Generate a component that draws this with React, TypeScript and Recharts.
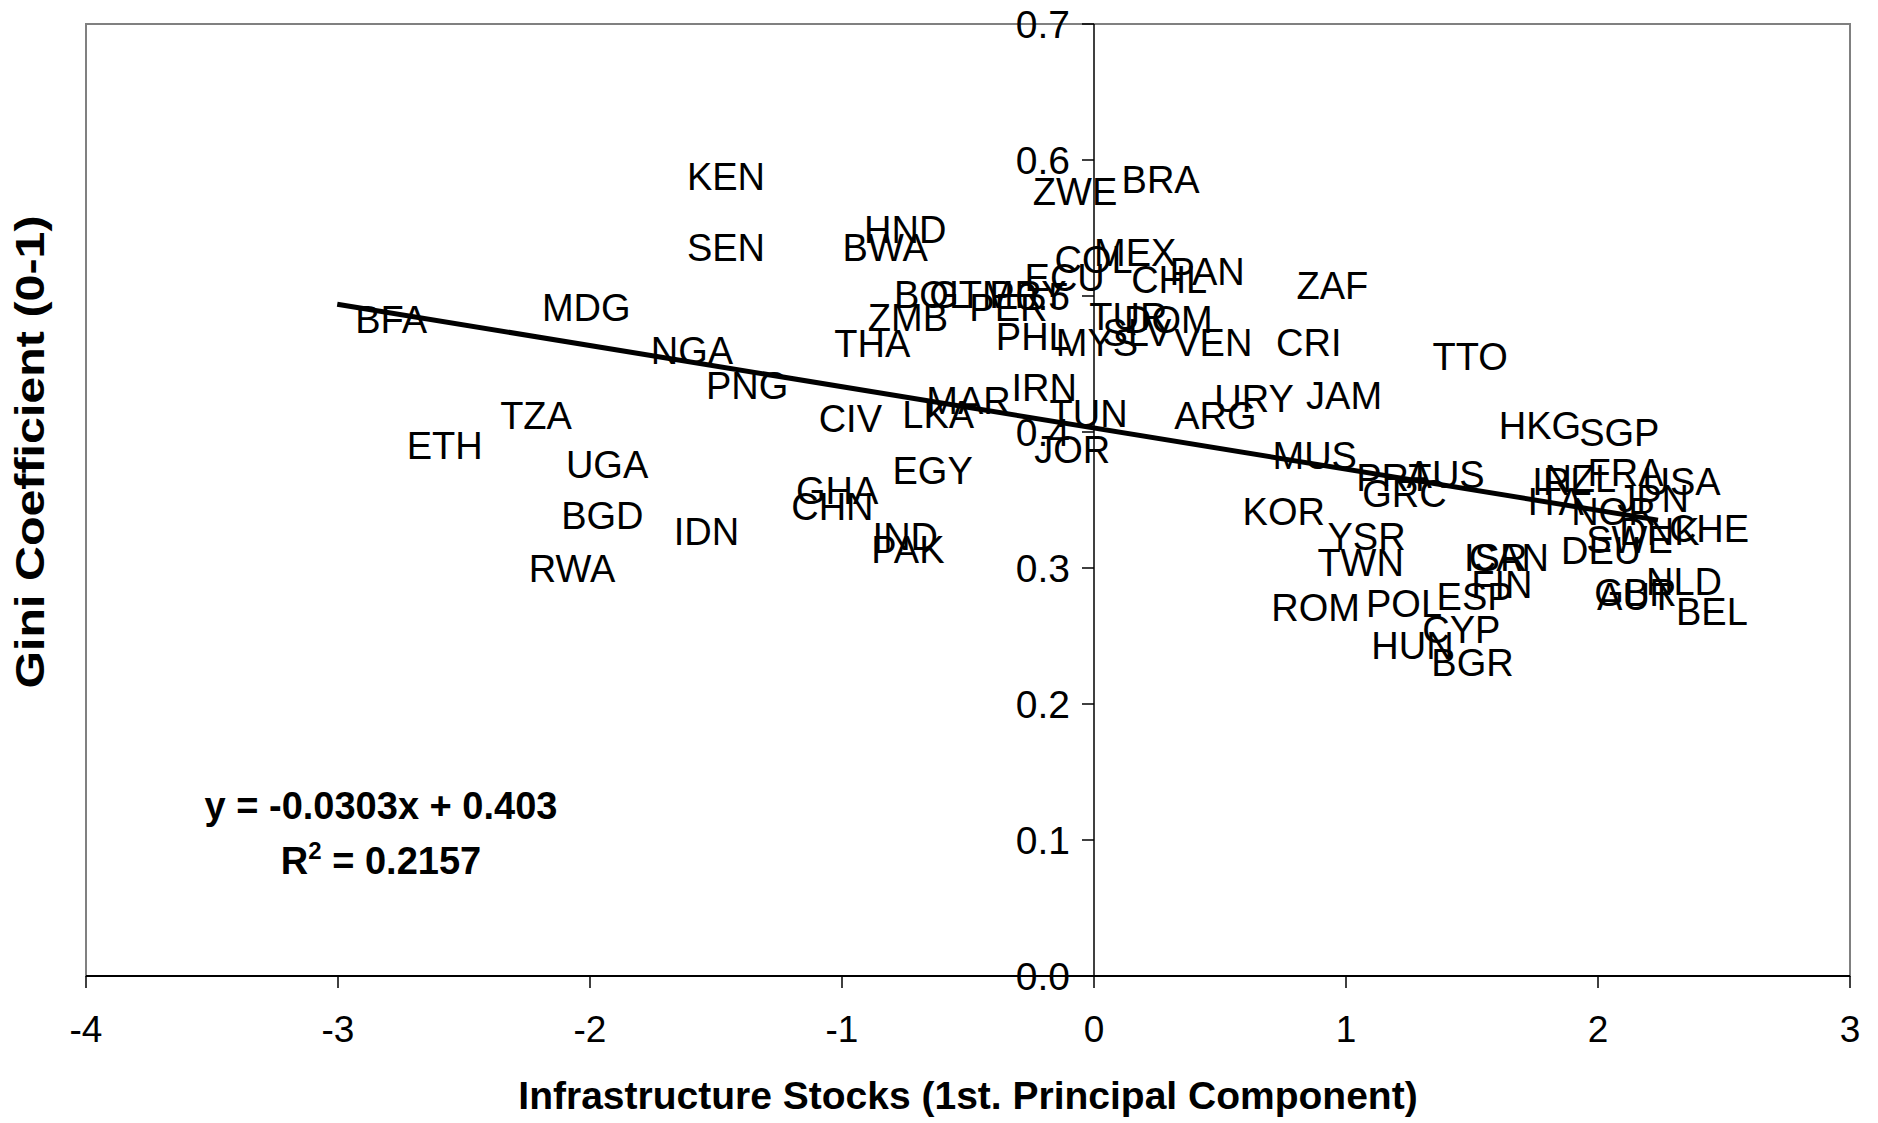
import React from "react";
import {
  ScatterChart,
  Scatter,
  XAxis,
  YAxis,
  ReferenceLine,
  ReferenceArea,
} from "recharts";

// Country codes, infrastructure index (x) and Gini (y)
const countries = [
  "KEN", "SEN", "BFA", "MDG", "NGA", "PNG", "TZA", "ETH", "UGA", "BGD", "IDN", "RWA",
  "HND", "BWA", "BOL", "GTM", "PRY", "ZMB", "PER", "THA", "PHL", "ECU", "COL", "MEX",
  "CHL", "PAN", "TUR", "DOM", "MYS", "SLV", "VEN", "ZWE", "BRA", "ZAF", "CRI", "TTO",
  "JAM", "URY", "ARG", "IRN", "MAR", "TUN", "LKA", "JOR", "CIV", "EGY", "GHA", "CHN",
  "IND", "PAK", "MUS", "KOR", "PRT", "GRC", "AUS", "YSR", "TWN", "ROM", "POL", "ESP",
  "CYP", "HUN", "BGR", "ISR", "CAN", "FIN", "HKG", "SGP", "IRL", "NZL", "FRA", "USA",
  "ITA", "NOR", "JPN", "DNK", "CHE", "SWE", "DEU", "NLD", "GBR", "AUT", "BEL",
];

const infra = [
  -1.687, -1.687, -3.003, -2.262, -1.83, -1.611, -2.428, -2.799, -2.167, -2.186, -1.739, -2.314,
  -0.984, -1.069, -0.865, -0.725, -0.487, -0.969, -0.566, -1.102, -0.461, -0.347, -0.228, -0.071,
  0.076, 0.228, -0.09, 0.048, -0.223, -0.038, 0.247, -0.314, 0.038, 0.732, 0.651, 1.272,
  0.77, 0.406, 0.247, -0.399, -0.737, -0.248, -0.832, -0.309, -1.164, -0.871, -1.254, -1.273,
  -0.95, -0.955, 0.637, 0.518, 0.969, 0.993, 1.169, 0.855, 0.815, 0.632, 1.008, 1.288,
  1.231, 1.029, 1.267, 1.397, 1.416, 1.426, 1.535, 1.854, 1.668, 1.716, 1.887, 2.105,
  1.649, 1.822, 2.005, 2.013, 2.21, 1.882, 1.782, 2.119, 1.914, 1.925, 2.238,
];

const gini = [
  0.588, 0.536, 0.483, 0.492, 0.46, 0.434, 0.412, 0.39, 0.376, 0.339, 0.327, 0.3,
  0.549, 0.536, 0.501, 0.501, 0.501, 0.484, 0.492, 0.465, 0.47, 0.514, 0.527, 0.532,
  0.512, 0.518, 0.485, 0.483, 0.466, 0.473, 0.466, 0.577, 0.586, 0.508, 0.466, 0.456,
  0.427, 0.425, 0.412, 0.433, 0.423, 0.414, 0.413, 0.387, 0.41, 0.372, 0.357, 0.345,
  0.323, 0.314, 0.383, 0.342, 0.367, 0.355, 0.369, 0.323, 0.304, 0.271, 0.274, 0.279,
  0.255, 0.243, 0.231, 0.308, 0.308, 0.288, 0.405, 0.4, 0.364, 0.366, 0.37, 0.364,
  0.349, 0.342, 0.351, 0.327, 0.329, 0.321, 0.313, 0.29, 0.282, 0.279, 0.268,
];

const xTicks = [-4, -3, -2, -1, 0, 1, 2, 3];
const yTicks = [0, 0.1, 0.2, 0.3, 0.4, 0.5, 0.6, 0.7];

const SLOPE = -0.0303;
const INTERCEPT = 0.403;
const R2 = "0.2157";

const FONT = "'Liberation Sans', Arial, sans-serif";

const points = countries.map((name, i) => ({ name, x: infra[i], y: gini[i] }));
const yTickPoints = yTicks.map((v) => ({ x: 0, y: v }));

const xMin = Math.min(...infra);
const xMax = Math.max(...infra);
const trend = [
  { x: xMin, y: INTERCEPT + SLOPE * xMin },
  { x: xMax, y: INTERCEPT + SLOPE * xMax },
];

// label sits to the right of the (hidden) point, like Excel's "Right" position
const CountryLabel = (props: any) => (
  <text
    x={props.cx + 18}
    y={props.cy}
    dy="0.36em"
    fontSize={38}
    fontFamily={FONT}
    fill="#000"
  >
    {props.payload.name}
  </text>
);

// y axis crosses at x = 0, so its ticks are drawn as a series
const YTick = (props: any) => (
  <g>
    <line x1={props.cx - 12} y1={props.cy} x2={props.cx} y2={props.cy} stroke="#000" strokeWidth={1.5} />
    <text
      x={props.cx - 24}
      y={props.cy}
      dy="0.36em"
      textAnchor="end"
      fontSize={39}
      fontFamily={FONT}
      fill="#000"
    >
      {props.payload.y.toFixed(1)}
    </text>
  </g>
);

export default function App() {
  return (
    <div style={{ position: "absolute", left: 0, top: 0, width: 1878, height: 1123, background: "#fff" }}>
      <ScatterChart
        width={1878}
        height={1123}
        margin={{ top: 24, right: 28, bottom: 117, left: 86 }}
      >
        <XAxis
          type="number"
          dataKey="x"
          domain={[-4, 3]}
          ticks={xTicks}
          height={30}
          tickSize={12}
          tickMargin={28}
          axisLine={{ stroke: "#000", strokeWidth: 2 }}
          tickLine={{ stroke: "#000", strokeWidth: 1.5 }}
          tick={{ fill: "#000", fontSize: 37, fontFamily: FONT }}
        />
        <YAxis type="number" dataKey="y" domain={[0, 0.7]} ticks={yTicks} hide />
        <ReferenceArea x1={-4} x2={3} y1={0} y2={0.7} fill="none" stroke="#808080" strokeWidth={2} />
        <ReferenceLine x={0} stroke="#000" strokeWidth={1.5} />
        <Scatter data={yTickPoints} shape={YTick} isAnimationActive={false} />
        <Scatter data={points} shape={CountryLabel} isAnimationActive={false} />
        <ReferenceLine segment={trend} stroke="#000" strokeWidth={5} />
      </ScatterChart>

      <div
        style={{
          position: "absolute",
          left: 968,
          top: 1096,
          transform: "translate(-50%, -50%)",
          whiteSpace: "nowrap",
          fontFamily: FONT,
          fontWeight: "bold",
          fontSize: 39,
        }}
      >
        Infrastructure Stocks (1st. Principal Component)
      </div>
      <div
        style={{
          position: "absolute",
          left: 30,
          top: 452,
          transform: "translate(-50%, -50%) rotate(-90deg) scaleX(1.18)",
          whiteSpace: "nowrap",
          fontFamily: FONT,
          fontWeight: "bold",
          fontSize: 41,
        }}
      >
        Gini Coefficient (0-1)
      </div>
      <div
        style={{
          position: "absolute",
          left: 381,
          top: 836,
          transform: "translate(-50%, -50%)",
          textAlign: "center",
          whiteSpace: "nowrap",
          fontFamily: FONT,
          fontWeight: "bold",
          fontSize: 38,
          lineHeight: "55px",
        }}
      >
        <div>y = {SLOPE}x + {INTERCEPT}</div>
        <div>
          R<span style={{ fontSize: 24, position: "relative", top: -15 }}>2</span> = {R2}
        </div>
      </div>
    </div>
  );
}
